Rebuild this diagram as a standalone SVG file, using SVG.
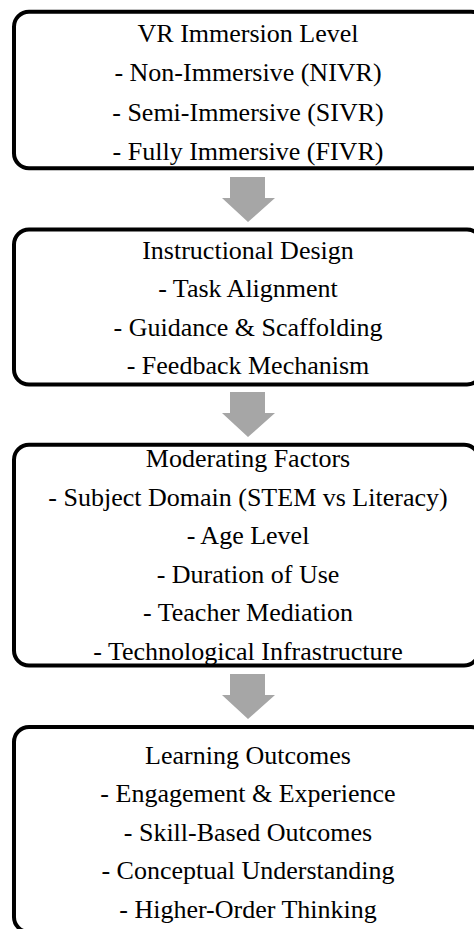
<svg xmlns="http://www.w3.org/2000/svg" width="474" height="929" viewBox="0 0 474 929">
  <style>
    .box { fill: #ffffff; stroke: #000000; stroke-width: 4; }
    .label { font-family: 'Liberation Serif', Tinos, 'Times New Roman', Times, 'DejaVu Serif', serif; font-size: 26px; fill: #000000; text-anchor: middle; }
    .flow { fill: #a6a6a6; stroke: none; }
  </style>
  <defs>
    <!-- block arrow pointing down, origin at top centre of the shaft -->
    <path id="down-arrow" d="M -18 0 H 17 V 21 H 27 L 0 45 L -26 21 H -18 Z"/>
  </defs>
  <rect width="474" height="929" fill="#ffffff"/>

  <g id="connectors">
    <use href="#down-arrow" class="flow" x="248" y="177"/>
    <use href="#down-arrow" class="flow" x="248" y="392"/>
    <use href="#down-arrow" class="flow" x="248" y="674"/>
  </g>

  <g id="immersion-level">
    <rect class="box" x="14" y="11.7" width="472" height="156.5" rx="15"/>
    <text class="label" x="248" y="41.5">VR Immersion Level</text>
    <text class="label" x="248" y="81">- Non-Immersive (NIVR)</text>
    <text class="label" x="248" y="120.5">- Semi-Immersive (SIVR)</text>
    <text class="label" x="248" y="160">- Fully Immersive (FIVR)</text>
  </g>

  <g id="instructional-design">
    <rect class="box" x="14" y="229.5" width="468" height="155" rx="15"/>
    <text class="label" x="248" y="258.5">Instructional Design</text>
    <text class="label" x="248" y="297">- Task Alignment</text>
    <text class="label" x="248" y="335.5">- Guidance &amp; Scaffolding</text>
    <text class="label" x="248" y="374">- Feedback Mechanism</text>
  </g>

  <g id="moderating-factors">
    <rect class="box" x="14" y="444.7" width="465" height="220.8" rx="15"/>
    <text class="label" x="248" y="467">Moderating Factors</text>
    <text class="label" x="248" y="505.5">- Subject Domain (STEM vs Literacy)</text>
    <text class="label" x="248" y="544">- Age Level</text>
    <text class="label" x="248" y="582.5">- Duration of Use</text>
    <text class="label" x="248" y="621">- Teacher Mediation</text>
    <text class="label" x="248" y="659.5">- Technological Infrastructure</text>
  </g>

  <g id="learning-outcomes">
    <rect class="box" x="14" y="727" width="472" height="205" rx="15"/>
    <text class="label" x="248" y="763.5">Learning Outcomes</text>
    <text class="label" x="248" y="802">- Engagement &amp; Experience</text>
    <text class="label" x="248" y="840.5">- Skill-Based Outcomes</text>
    <text class="label" x="248" y="879">- Conceptual Understanding</text>
    <text class="label" x="248" y="917.5">- Higher-Order Thinking</text>
  </g>
</svg>
